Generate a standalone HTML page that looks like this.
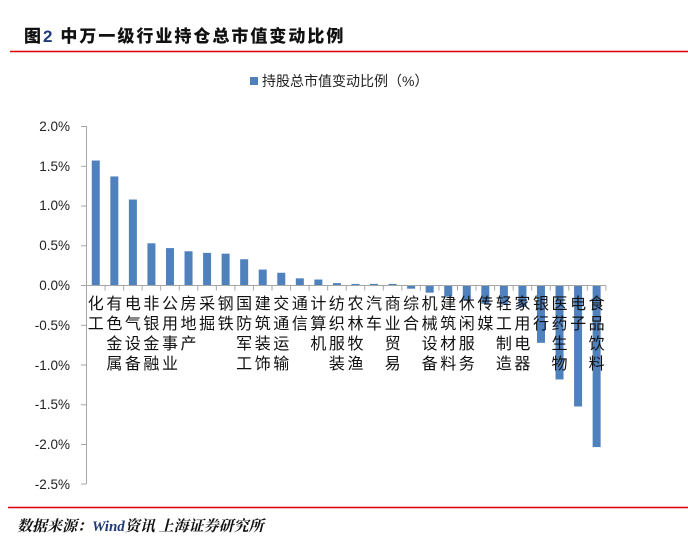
<!DOCTYPE html>
<html><head><meta charset="utf-8"><style>
html,body{margin:0;padding:0;background:#fff;}
svg{display:block;}
</style></head><body>
<svg width="688" height="558" xmlns="http://www.w3.org/2000/svg" font-family="'Liberation Sans','Noto Sans CJK SC',sans-serif">
<rect width="688" height="558" fill="#fff"/>
<text x="24" y="42" font-size="17" font-weight="900" letter-spacing="2" font-family="'Noto Sans CJK SC',sans-serif" fill="#111">图<tspan fill="#1f3a7a" font-family="'Liberation Sans',sans-serif">2</tspan>  中万一级行业持仓总市值变动比例</text>
<line x1="10" y1="51.5" x2="688" y2="51.5" stroke="#d00" stroke-width="1.5"/>
<rect x="250" y="77" width="8" height="8" fill="#4f81bd"/>
<text x="262" y="86" font-size="14" fill="#222">持股总市值变动比例（%）</text>
<g font-size="13.5" fill="#222" text-anchor="end">
<text x="70" y="131">2.0%</text><text x="70" y="171">1.5%</text><text x="70" y="210">1.0%</text><text x="70" y="250">0.5%</text><text x="70" y="290">0.0%</text><text x="70" y="330">-0.5%</text><text x="70" y="370">-1.0%</text><text x="70" y="409">-1.5%</text><text x="70" y="449">-2.0%</text><text x="70" y="489">-2.5%</text>
</g>
<g stroke="#a6a6a6" stroke-width="1">
<line x1="86.5" y1="126" x2="86.5" y2="484"/>
<line x1="81" y1="126.5" x2="86" y2="126.5"/><line x1="81" y1="166.3" x2="86" y2="166.3"/><line x1="81" y1="206" x2="86" y2="206"/><line x1="81" y1="245.8" x2="86" y2="245.8"/><line x1="81" y1="285.5" x2="86" y2="285.5"/><line x1="81" y1="325.3" x2="86" y2="325.3"/><line x1="81" y1="365" x2="86" y2="365"/><line x1="81" y1="404.8" x2="86" y2="404.8"/><line x1="81" y1="444.5" x2="86" y2="444.5"/><line x1="81" y1="484" x2="86" y2="484"/>
</g>
<g id="bars" fill="#4f81bd"></g>
<g id="axis" stroke="#a6a6a6" stroke-width="1"></g>
<g id="labels" font-size="16" fill="#111" text-anchor="middle"></g>
<line x1="8" y1="507.5" x2="688" y2="507.5" stroke="#d00" stroke-width="1.5"/>
<text x="17" y="531" font-size="15" font-weight="bold" font-style="italic" font-family="'Noto Serif CJK SC',serif" fill="#111">数据来源：<tspan fill="#1f3a7a" font-family="'Liberation Serif',serif">Wind</tspan>资讯 上海证券研究所</text>
<script>
var d=[["化工",1.57],["有色金属",1.37],["电气设备",1.08],["非银金融",0.53],["公用事业",0.47],["房地产",0.43],["采掘",0.41],["钢铁",0.40],["国防军工",0.33],["建筑装饰",0.20],["交通运输",0.16],["通信",0.09],["计算机",0.075],["纺织服装",0.03],["农林牧渔",0.02],["汽车",0.02],["商业贸易",0.02],["综合",-0.04],["机械设备",-0.09],["建筑材料",-0.14],["休闲服务",-0.19],["传媒",-0.23],["轻工制造",-0.24],["家用电器",-0.27],["银行",-0.72],["医药生物",-1.18],["电子",-1.52],["食品饮料",-2.03]];
var ns="http://www.w3.org/2000/svg",x0=86.5,w=18.55,z=285.5,k=79.6;
var B=document.getElementById("bars"),A=document.getElementById("axis"),L=document.getElementById("labels");
function el(t,a,p){var e=document.createElementNS(ns,t);for(var i in a)e.setAttribute(i,a[i]);p.appendChild(e);return e;}
d.forEach(function(r,i){var c=x0+w*(i+0.5),h=r[1]*k;
el("rect",{x:c-4,y:h>0?z-h:z,width:8,height:Math.abs(h)},B);
el("line",{x1:x0+w*(i+1),y1:z,x2:x0+w*(i+1),y2:z+5},A);
r[0].split("").forEach(function(ch,j){var t=el("text",{x:c,y:309+j*20},L);t.textContent=ch;});
});
el("line",{x1:x0,y1:z,x2:x0+w*28,y2:z},A);
</script>
</svg>
</body></html>
